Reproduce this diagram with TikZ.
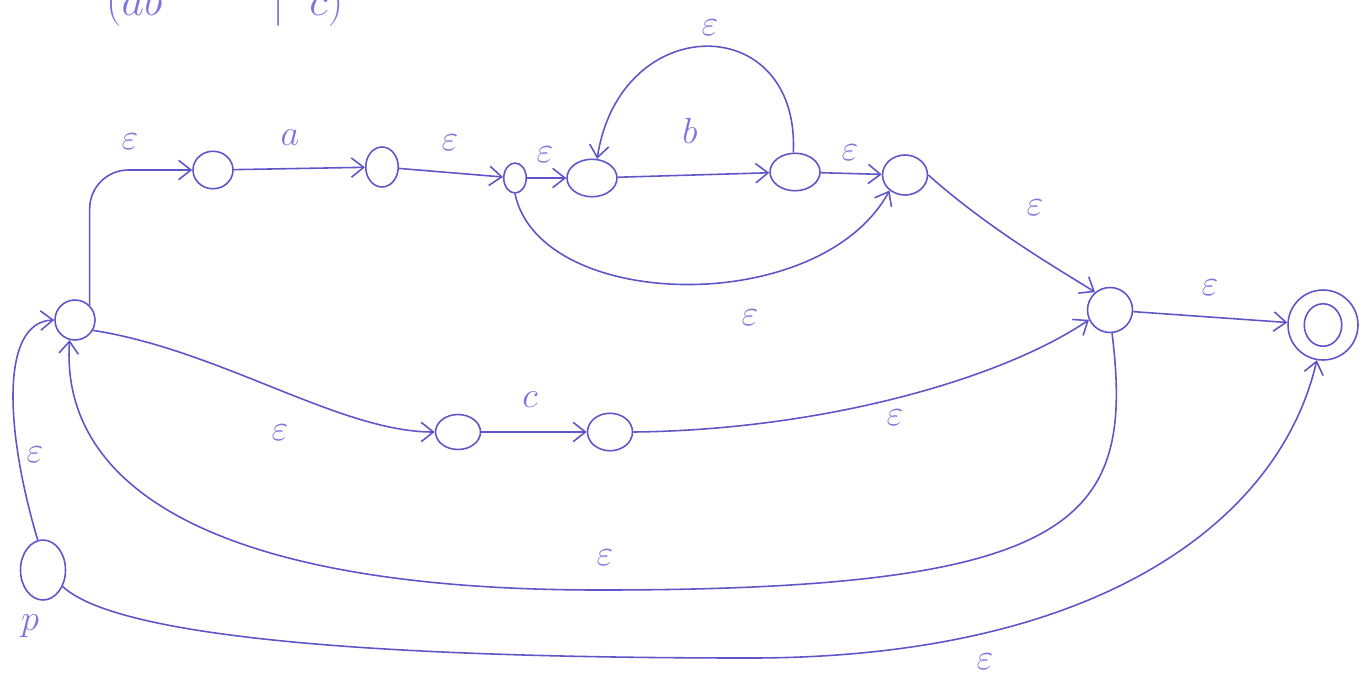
\documentclass[tikz,border=0pt]{standalone}
\usetikzlibrary{shapes.geometric,arrows.meta}
\definecolor{ink}{RGB}{95,85,200}
\definecolor{inkl}{RGB}{125,115,225}
\begin{document}
\begin{tikzpicture}[x=0.02cm,y=-0.02cm,
  st/.style={draw=ink, ellipse, line width=0.9pt, inner sep=0pt},
  e/.style={draw=ink, line width=0.9pt, -{Straight Barb[length=7pt,width=11pt]}},
  lab/.style={text=inkl, font=\fontsize{22}{24}\selectfont}]
\useasboundingbox (0,0) rectangle (1364,683);
\begin{scope}
\clip (0,0) rectangle (1364,683);
\node[text=inkl, font=\fontsize{50}{54}\selectfont, anchor=base west] (expr) at (100,15) {$(ab^{*}\quad|\;\; c)^{*}$};
\end{scope}
% states
\node[st, minimum width=0.9cm, minimum height=1.2cm] (p) at (43,570) {};
\node[st, minimum width=0.8cm, minimum height=0.8cm] (A) at (75,320) {};
\node[st, minimum width=0.8cm, minimum height=0.75cm] (n1) at (213,170) {};
\node[st, minimum width=0.65cm, minimum height=0.8cm] (n2) at (382,167) {};
\node[st, minimum width=0.45cm, minimum height=0.6cm] (n3) at (515,178) {};
\node[st, minimum width=1.0cm, minimum height=0.75cm] (n4) at (592,178) {};
\node[st, minimum width=1.0cm, minimum height=0.75cm] (n5) at (795,172) {};
\node[st, minimum width=0.9cm, minimum height=0.8cm] (n6) at (905,175) {};
\node[st, minimum width=0.9cm, minimum height=0.9cm] (J) at (1110,310) {};
\node[st, minimum width=1.4cm, minimum height=1.4cm] (F) at (1323,325) {};
\node[st, minimum width=0.75cm, minimum height=0.85cm] (Fi) at (1323,325) {};
\node[st, minimum width=0.9cm, minimum height=0.7cm] (c1) at (458,432) {};
\node[st, minimum width=0.9cm, minimum height=0.75cm] (c2) at (610,432) {};
\coordinate (b1) at (600,590);
\coordinate (b2) at (750,658);
% edges
\draw[e] (p.100) .. controls (5,430) and (0,322) .. (A.west);
\draw[e, rounded corners=22] (A.45) |- (n1.west);
\draw[e] (n1) -- (n2);
\draw[e] (n2) -- (n3);
\draw[e] (n3) -- (n4);
\draw[e] (n4) -- (n5);
\draw[e] (n5) -- (n6);
\draw[e] (n5.95) .. controls (800,10) and (620,10) .. (n4.75);
\draw[e] (n3.south) .. controls (540,312) and (820,318) .. (n6.225);
\draw[e] (n6.east) .. controls (990,230) and (1060,270) .. (J.130);
\draw[e] (J) -- (F);
\draw[e] (A.-30) .. controls (220,350) and (340,432) .. (c1.west);
\draw[e] (c1) -- (c2);
\draw[e] (c2.east) .. controls (820,430) and (1000,380) .. (J.205);
\draw[e] (J.275) .. controls (1135,520) and (1080,590) .. (b1)
              .. controls (200,590) and (60,480) .. (A.255);
\draw[e] (p.-40) .. controls (120,640) and (400,658) .. (b2)
              .. controls (1100,658) and (1280,520) .. (F.260);
% labels
\node[lab] (l1) at (35,455) {$\varepsilon$};
\node[lab] (l2) at (130,142) {$\varepsilon$};
\node[lab] (l3) at (290,138) {$a$};
\node[lab] (l4) at (450,143) {$\varepsilon$};
\node[lab] (l5) at (545,155) {$\varepsilon$};
\node[lab] (l6) at (690,131) {$b$};
\node[lab] (l7) at (710,28) {$\varepsilon$};
\node[lab] (l8) at (850,153) {$\varepsilon$};
\node[lab] (l9) at (750,318) {$\varepsilon$};
\node[lab] (l10) at (1035,208) {$\varepsilon$};
\node[lab] (l11) at (1210,288) {$\varepsilon$};
\node[lab] (l12) at (280,433) {$\varepsilon$};
\node[lab] (l13) at (530,400) {$c$};
\node[lab] (l14) at (895,418) {$\varepsilon$};
\node[lab] (l15) at (605,558) {$\varepsilon$};
\node[lab] (l16) at (985,662) {$\varepsilon$};
\node[lab] (lp) at (30,626) {$p$};
\end{tikzpicture}
\end{document}
